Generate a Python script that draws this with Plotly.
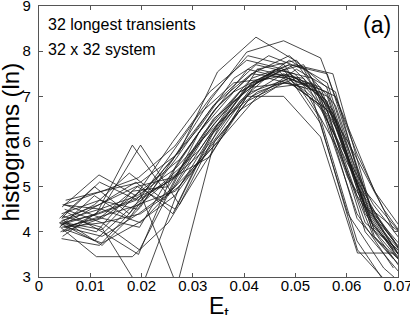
import plotly.graph_objects as go

# x bin-centre sets (one per group of transients)
xa = [0.0045, 0.0117, 0.0189, 0.0261, 0.0333, 0.0405, 0.0477, 0.0549, 0.0621, 0.0693]
xb = [0.0050, 0.0123, 0.0196, 0.0269, 0.0342, 0.0415, 0.0488, 0.0561, 0.0634, 0.0707]
xc = [0.0042, 0.0112, 0.0182, 0.0252, 0.0322, 0.0392, 0.0462, 0.0532, 0.0602, 0.0672, 0.0742]
xd = [0.0048, 0.0123, 0.0198, 0.0273, 0.0348, 0.0423, 0.0498, 0.0573, 0.0648, 0.0723]
xe = [0.0044, 0.0118, 0.0192, 0.0266, 0.0340, 0.0414, 0.0488, 0.0562, 0.0636, 0.0710]
xf = [0.0052, 0.0123, 0.0194, 0.0265, 0.0336, 0.0407, 0.0478, 0.0549, 0.0620, 0.0691]
xg = [0.0046, 0.0122, 0.0198, 0.0274, 0.0350, 0.0426, 0.0502, 0.0578, 0.0654, 0.0730]
xh = [0.0040, 0.0108, 0.0176, 0.0244, 0.0312, 0.0380, 0.0448, 0.0516, 0.0584, 0.0652, 0.0720]

series = [
    (xa, [4.20, 4.40, 4.70, 5.60, 6.90, 7.98, 8.23, 7.85, 5.70, 4.00]),
    (xd, [4.60, 4.90, 5.10, 5.75, 7.54, 8.31, 7.80, 6.60, 4.20, 3.20]),
    (xb, [4.10, 4.35, 4.60, 5.30, 6.40, 7.30, 7.50, 6.90, 4.60, 3.40]),
    (xc, [4.20, 4.00, 4.90, 5.00, 6.20, 7.10, 7.60, 7.00, 4.40, 3.20, 2.50]),
    (xe, [4.40, 4.70, 4.50, 5.60, 6.80, 7.50, 7.40, 6.60, 4.20, 3.50]),
    (xf, [4.05, 3.75, 4.20, 4.80, 5.90, 6.90, 7.30, 7.10, 4.80, 3.60]),
    (xg, [4.60, 4.50, 5.92, 4.60, 6.30, 7.60, 7.80, 6.80, 4.30, 3.00]),
    (xh, [4.30, 5.00, 4.40, 5.50, 6.60, 7.30, 7.40, 7.20, 5.80, 3.90, 3.20]),
    (xa, [4.15, 4.60, 5.10, 4.40, 6.10, 7.00, 7.50, 7.20, 5.00, 3.80]),
    (xb, [4.50, 4.20, 3.60, 5.20, 6.50, 7.40, 7.70, 6.90, 4.50, 3.30]),
    (xc, [4.00, 4.40, 4.70, 5.10, 5.80, 6.90, 7.60, 7.40, 5.20, 4.00, 3.10]),
    (xd, [4.25, 3.70, 4.55, 5.80, 6.90, 7.70, 7.50, 6.70, 4.10, 3.10]),
    (xe, [3.85, 3.70, 4.60, 4.90, 6.00, 7.20, 7.80, 7.30, 4.70, 3.50]),
    (xf, [4.70, 4.90, 5.20, 5.90, 7.00, 7.90, 7.70, 6.50, 3.80, 2.60]),
    (xg, [4.35, 4.10, 2.70, 5.00, 6.40, 7.10, 7.40, 7.00, 4.90, 3.70]),
    (xh, [4.10, 4.80, 4.30, 5.40, 6.30, 7.40, 7.90, 7.60, 6.20, 4.10, 3.40]),
    (xa, [4.55, 5.26, 4.80, 6.00, 7.10, 7.80, 7.60, 6.40, 3.60, 2.70]),
    (xb, [4.20, 4.05, 4.90, 2.80, 6.00, 7.00, 7.40, 7.10, 4.60, 3.60]),
    (xc, [4.10, 3.45, 3.45, 4.20, 5.50, 6.70, 7.20, 7.30, 6.00, 4.50, 3.40]),
    (xa, [4.30, 4.60, 5.00, 5.20, 5.66, 7.00, 7.00, 6.10, 3.53, 3.53]),
    (xe, [4.10, 4.30, 5.00, 4.50, 6.20, 7.30, 7.70, 7.50, 4.90, 3.90]),
    (xf, [4.45, 4.00, 3.50, 5.40, 6.60, 7.60, 7.40, 6.80, 4.40, 3.20]),
    (xg, [3.90, 4.50, 4.20, 5.10, 6.00, 7.00, 7.60, 7.10, 4.00, 2.80]),
    (xh, [4.20, 4.60, 5.30, 4.70, 6.20, 7.10, 7.50, 7.70, 6.40, 4.40, 3.50]),
    (xb, [4.60, 4.30, 4.10, 5.50, 6.70, 7.50, 7.90, 7.20, 4.70, 3.40]),
    (xd, [4.10, 4.20, 4.40, 5.00, 6.00, 7.30, 7.70, 7.50, 4.50, 3.80]),
    (xe, [4.30, 5.10, 4.70, 5.20, 6.50, 7.20, 7.30, 6.70, 4.00, 3.00]),
    (xc, [4.15, 4.40, 5.92, 4.80, 6.10, 7.10, 7.50, 7.20, 5.50, 4.10, 3.00]),
    (xf, [4.10, 3.90, 4.40, 5.00, 6.20, 7.20, 7.60, 7.00, 4.30, 3.40]),
    (xg, [4.00, 4.30, 4.90, 5.60, 6.80, 7.60, 7.40, 6.50, 3.90, 2.90]),
    (xh, [4.20, 3.80, 4.50, 5.10, 5.80, 6.90, 7.50, 7.40, 6.00, 4.60, 3.60]),
    (xe, [4.25, 4.50, 4.80, 5.40, 6.30, 7.10, 7.40, 7.00, 4.40, 3.30]),
]

x_ticks = [0, 0.01, 0.02, 0.03, 0.04, 0.05, 0.06, 0.07]
x_tick_labels = ["0", "0.01", "0.02", "0.03", "0.04", "0.05", "0.06", "0.07"]
y_ticks = [3, 4, 5, 6, 7, 8, 9]

FONT = "Liberation Sans, Arial, sans-serif"

fig = go.Figure()
for xs, ys in series:
    fig.add_trace(go.Scatter(x=xs, y=ys, mode="lines",
                             line=dict(color="#1a1a1a", width=0.8),
                             showlegend=False, hoverinfo="skip"))

axis_common = dict(showgrid=False, zeroline=False, showline=True, mirror="ticks",
                   linecolor="#555", linewidth=1.2, ticks="inside", ticklen=4,
                   tickcolor="#555", tickwidth=1, automargin=False,
                   ticklabeloverflow="allow",
                   tickfont=dict(family=FONT, size=15, color="black"))

fig.update_xaxes(range=[0, 0.07], tickvals=x_ticks, ticktext=x_tick_labels,
                 ticklabelstandoff=-5, **axis_common)
fig.update_yaxes(range=[3, 9], tickvals=y_ticks, ticktext=[str(v) for v in y_ticks],
                 ticklabelstandoff=4, **axis_common)

fig.update_layout(
    width=410, height=315,
    margin=dict(l=39, r=12, t=6, b=38),
    paper_bgcolor="white", plot_bgcolor="white",
    font=dict(family=FONT, color="black"),
    annotations=[
        dict(text="32 longest transients", x=0.02, y=0.93, xref="paper", yref="paper",
             xanchor="left", yanchor="middle", showarrow=False, font=dict(size=16)),
        dict(text="32 x 32 system", x=0.02, y=0.84, xref="paper", yref="paper",
             xanchor="left", yanchor="middle", showarrow=False, font=dict(size=16)),
        dict(text="(a)", x=0.985, y=0.93, xref="paper", yref="paper",
             xanchor="right", yanchor="middle", showarrow=False, font=dict(size=23)),
        dict(text="E<sub>t</sub>", x=0.5, y=-0.052, xref="paper", yref="paper",
             xanchor="center", yanchor="top", showarrow=False, font=dict(size=23)),
        dict(text="histograms (ln)", x=-0.078, y=0.5, xref="paper", yref="paper",
             xanchor="center", yanchor="middle", textangle=-90, showarrow=False,
             font=dict(size=24)),
    ],
)

fig.write_html("out.html", config={"displayModeBar": False, "staticPlot": True},
               post_script="document.body.style.margin='0';document.body.style.overflow='hidden';")
